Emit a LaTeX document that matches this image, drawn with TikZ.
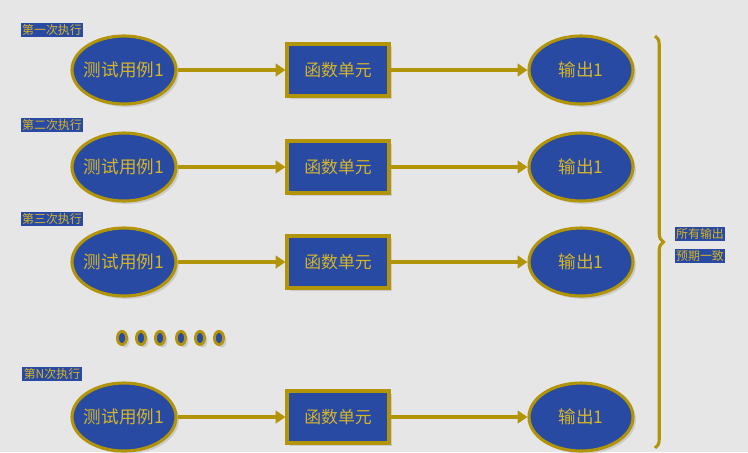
\documentclass[tikz,border=0pt]{standalone}
\usepackage{fontspec}
\setmainfont{Noto Sans CJK SC}
\usetikzlibrary{shapes.geometric,shadows,arrows.meta,decorations.pathreplacing}
\definecolor{bg}{RGB}{230,230,230}
\definecolor{blu}{RGB}{40,74,162}
\definecolor{gld}{RGB}{178,148,8}
\definecolor{txt}{RGB}{214,180,40}
\tikzset{
  shd/.style={drop shadow={shadow xshift=2pt,shadow yshift=-2pt,fill=black!30}},
  caseell/.style={ellipse,draw=gld,fill=blu,line width=2.2pt,inner xsep=-4pt,inner ysep=0pt,minimum width=2.6cm,minimum height=1.7cm,text=txt,font=\fontsize{12.5}{12.5}\selectfont,shd},
  funcbox/.style={rectangle,draw=gld,fill=blu,line width=2.2pt,minimum width=2.55cm,minimum height=1.3cm,text=txt,font=\fontsize{12}{12}\selectfont,shd},
  tag/.style={fill=blu,text=txt,inner sep=1pt,font=\fontsize{8.5}{9}\selectfont},
  flow/.style={-{Triangle[length=7pt,width=9pt]},draw=gld,line width=2.2pt},
  dot/.style={ellipse,draw=gld,fill=blu,line width=2pt,minimum width=0.23cm,minimum height=0.33cm,inner sep=0pt,shd}
}
\begin{document}
\begin{tikzpicture}[x=0.025cm,y=-0.025cm]
  % background
  \fill[bg] (0,0) rectangle (748,452);
  % rows: case -> unit -> output
  \foreach \i/\y/\lab/\ly in {1/70/第一次执行/30, 2/167/第二次执行/125, 3/262/第三次执行/219, 4/417/第N次执行/374} {
    \node[tag] (l\i) at (52,\ly) {\lab};
    \node[caseell] (c\i) at (124,\y) {测试用例1};
    \node[funcbox] (f\i) at (338,\y) {函数单元};
    \node[caseell] (o\i) at (581,\y) {输出1};
    \draw[flow] (c\i) -- (f\i);
    \draw[flow] (f\i) -- (o\i);
  }
  % dots between rows
  \foreach \x [count=\k] in {122,141,160,181,200,219}
    \node[dot] (d\k) at (\x,338) {};
  % brace on the right
  \coordinate (bt) at (655,36);
  \coordinate (bb) at (655,448);
  \draw[gld,line width=2.2pt,decorate,decoration={brace,amplitude=6pt,aspect=0.5}] (bt) -- (bb);
  \node[tag] (r1) at (700,234) {所有输出};
  \node[tag] (r2) at (700,256) {预期一致};
\end{tikzpicture}
\end{document}
